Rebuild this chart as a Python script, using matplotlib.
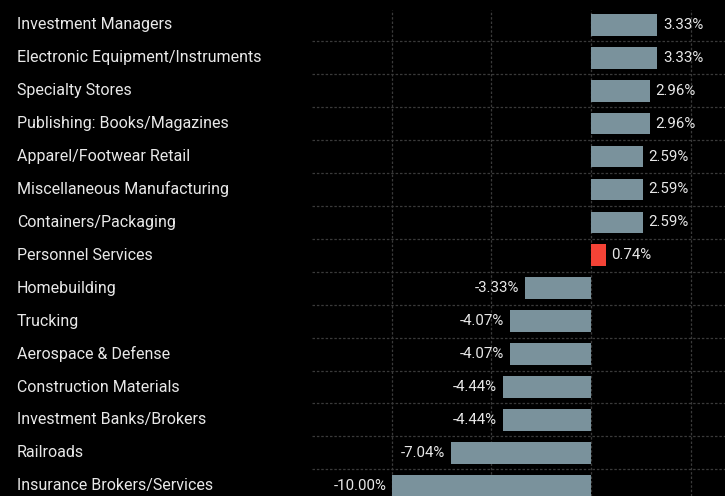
import numpy as np
import matplotlib
matplotlib.use("Agg")
from matplotlib import pyplot as plt
from matplotlib.transforms import blended_transform_factory

# data (percent change by industry)
industries = [
    "Investment Managers", "Electronic Equipment/Instruments", "Specialty Stores",
    "Publishing: Books/Magazines", "Apparel/Footwear Retail", "Miscellaneous Manufacturing",
    "Containers/Packaging", "Personnel Services", "Homebuilding", "Trucking",
    "Aerospace & Defense", "Construction Materials", "Investment Banks/Brokers",
    "Railroads", "Insurance Brokers/Services",
]
changes = [3.33, 3.33, 2.96, 2.96, 2.59, 2.59, 2.59, 0.74,
           -3.33, -4.07, -4.07, -4.44, -4.44, -7.04, -10.00]
highlight = "Personnel Services"

BG = "#000000"
BAR = "#7a929c"
RED = "#f44336"
TXT = "#e8e8e8"
GRID = "#3a3a3a"

plt.rcParams['font.family'] = ['Roboto', 'DejaVu Sans']

fig = plt.figure(figsize=(7.25, 4.96), dpi=100, facecolor=BG)
ax = fig.add_axes([312/725, 0.0, 1 - 312/725, 486/496])
ax.set_facecolor(BG)

y = np.arange(len(industries))
colors = [RED if n == highlight else BAR for n in industries]
ax.barh(y, changes, height=0.66, color=colors, zorder=3)

ax.set_xlim(-14, 6.72)
ax.set_ylim(len(industries) - 0.69, -0.45)

ax.set_xticks([-10, -5, 0, 5])
ax.set_yticks(np.arange(len(industries) - 1) + 0.5)
ax.grid(True, color=GRID, linestyle=(0, (2, 1.5)), linewidth=0.9, zorder=0)
ax.tick_params(length=0, labelbottom=False, labelleft=False)
for s in ax.spines.values():
    s.set_visible(False)

for yi, v in zip(y, changes):
    if v >= 0:
        ax.annotate(f"{v:.2f}%", (v, yi), xytext=(4, 0), textcoords="offset points",
                    ha="left", va="center", color=TXT, fontsize=10.8)
    else:
        ax.annotate(f"{v:.2f}%", (v, yi), xytext=(-4, 0), textcoords="offset points",
                    ha="right", va="center", color=TXT, fontsize=10.8)

# category labels at left of figure
tr = blended_transform_factory(fig.transFigure, ax.transData)
for yi, name in zip(y, industries):
    fig.text(17/725, yi, name, transform=tr, ha="left", va="center",
             color=TXT, fontsize=11.5)

fig.savefig("out.png", dpi=100, facecolor=BG)
